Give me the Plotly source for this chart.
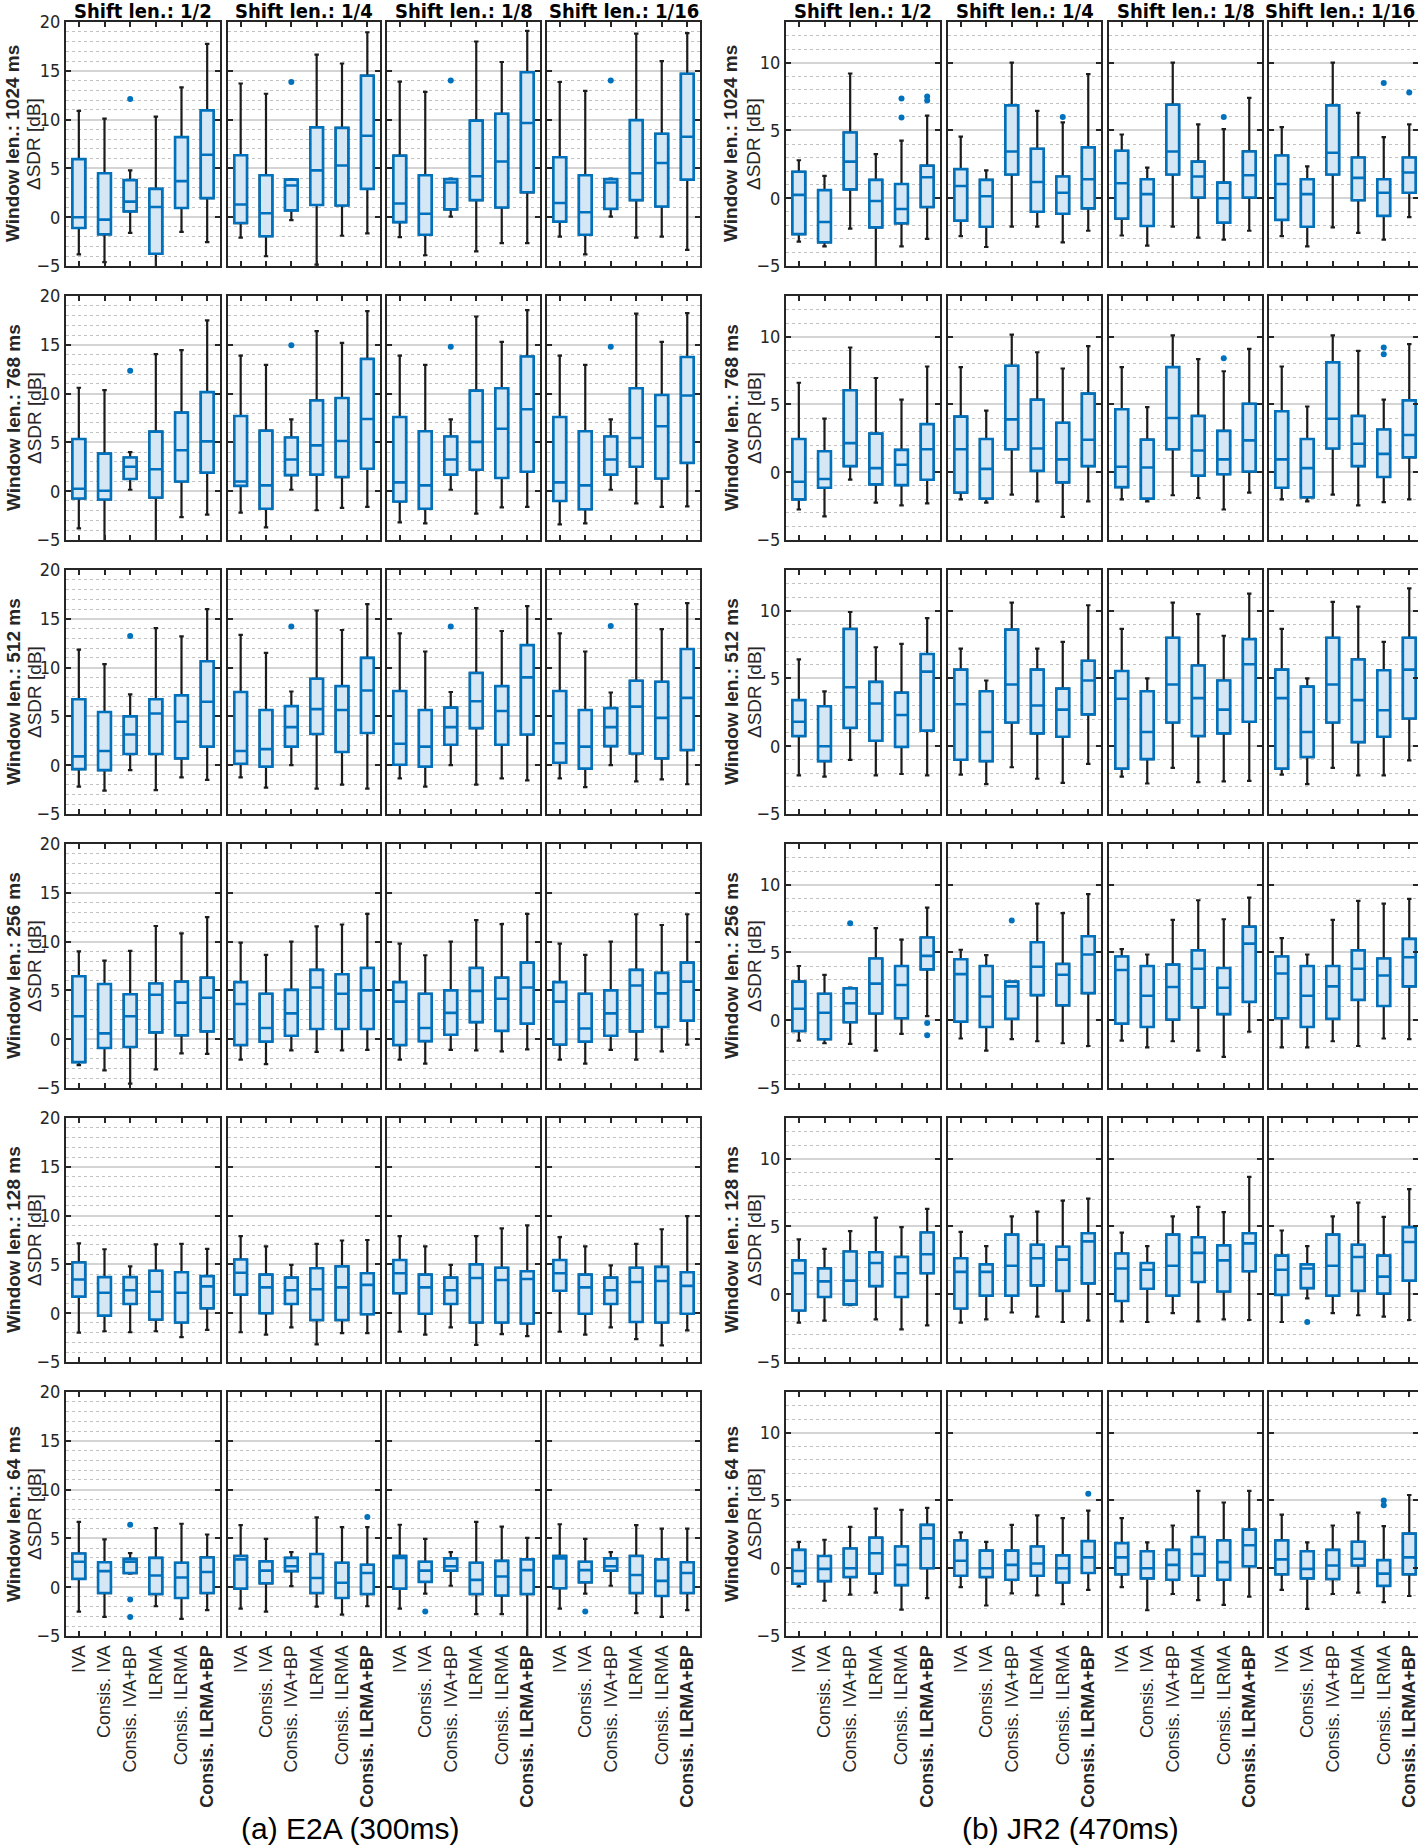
import plotly.graph_objects as go

# ---------------- categories ----------------
METHODS = ["IVA", "Consis. IVA", "Consis. IVA+BP", "ILRMA", "Consis. ILRMA", "Consis. ILRMA+BP"]
SHIFTS = ["1/2", "1/4", "1/8", "1/16"]
WINDOWS = [1024, 768, 512, 256, 128, 64]
DATASETS = ["E2A", "JR2"]
DATASET_TITLES = ["(a) E2A (300ms)", "(b) JR2 (470ms)"]

# ---------------- E2A data (rows = shift 1/2, 1/4, 1/8, 1/16; cols = methods) ----------------
E2A_1024_LOW = [[-3.8, -4.6, -1.6, -5.5, -1.5, -2.55], [-2.1, -4.0, -0.3, -4.85, -1.9, -1.65],
                [-2.05, -3.9, 0.05, -3.5, -2.65, -2.65], [-2.0, -3.8, 0.05, -2.1, -2.0, -3.35]]
E2A_1024_Q1 = [[-1.1, -1.75, 0.6, -3.75, 0.95, 1.95], [-0.6, -1.95, 0.7, 1.25, 1.2, 2.9],
               [-0.5, -1.8, 0.8, 1.75, 1.0, 2.55], [-0.45, -1.8, 0.85, 1.75, 1.1, 3.85]]
E2A_1024_MED = [[0.0, -0.25, 1.6, 1.05, 3.7, 6.4], [1.3, 0.4, 3.25, 4.8, 5.3, 8.35],
                [1.4, 0.35, 3.55, 4.2, 5.7, 9.65], [1.45, 0.5, 3.55, 4.5, 5.55, 8.25]]
E2A_1024_Q3 = [[5.95, 4.5, 3.8, 2.9, 8.2, 10.95], [6.35, 4.3, 3.85, 9.2, 9.15, 14.5],
               [6.3, 4.3, 3.9, 9.9, 10.6, 14.85], [6.15, 4.3, 3.9, 9.95, 8.55, 14.7]]
E2A_1024_HIGH = [[10.9, 10.1, 4.8, 10.3, 13.3, 17.75], [13.7, 12.65, 3.9, 16.65, 15.75, 18.95],
                 [13.9, 12.85, 3.95, 18.0, 15.9, 19.1], [13.85, 12.95, 3.95, 18.8, 16.0, 18.85]]

E2A_768_LOW = [[-3.8, -5.5, 0.15, -5.5, -2.65, -2.4], [-2.2, -3.7, 0.15, -1.95, -1.7, -1.6],
               [-3.2, -3.3, 0.15, -2.3, -1.65, -1.6], [-3.4, -3.3, 0.15, -1.25, -1.6, -1.55]]
E2A_768_Q1 = [[-0.75, -0.85, 1.25, -0.65, 1.0, 1.9], [0.55, -1.8, 1.65, 1.7, 1.45, 2.3],
              [-1.05, -1.8, 1.7, 2.2, 1.35, 2.0], [-1.0, -1.85, 1.7, 2.5, 1.3, 2.9]]
E2A_768_MED = [[0.25, 0.05, 2.5, 2.25, 4.2, 5.1], [1.0, 0.6, 3.25, 4.7, 5.15, 7.4],
               [0.9, 0.6, 3.25, 5.05, 6.4, 8.4], [0.9, 0.6, 3.25, 5.45, 6.65, 9.8]]
E2A_768_Q3 = [[5.35, 3.85, 3.45, 6.1, 8.05, 10.15], [7.7, 6.2, 5.5, 9.3, 9.55, 13.55],
              [7.6, 6.15, 5.6, 10.3, 10.55, 13.8], [7.6, 6.15, 5.6, 10.55, 9.85, 13.75]]
E2A_768_HIGH = [[10.6, 10.35, 4.0, 14.05, 14.45, 17.5], [13.9, 12.95, 7.35, 16.4, 15.2, 18.45],
                [13.9, 12.95, 7.35, 17.9, 15.3, 18.55], [13.9, 12.95, 7.35, 18.2, 15.3, 18.25]]

E2A_512_LOW = [[-2.2, -2.6, -0.5, -2.55, -1.25, -1.5], [-1.25, -2.3, 0.0, -2.4, -2.0, -2.4],
               [-1.35, -2.2, 0.0, -2.0, -1.35, -1.55], [-1.35, -2.25, 0.0, -1.65, -1.45, -1.95]]
E2A_512_Q1 = [[-0.4, -0.5, 1.15, 1.15, 0.7, 1.9], [0.15, -0.15, 1.9, 3.2, 1.35, 3.3],
              [0.05, -0.15, 2.1, 3.8, 2.1, 3.15], [0.25, -0.35, 1.95, 1.2, 0.7, 1.55]]
E2A_512_MED = [[0.9, 1.45, 3.15, 5.3, 4.45, 6.5], [1.45, 1.65, 3.9, 5.75, 5.65, 7.65],
               [2.2, 1.9, 3.9, 6.55, 5.55, 9.0], [2.25, 1.9, 3.9, 6.0, 4.85, 6.9]]
E2A_512_Q3 = [[6.75, 5.45, 5.0, 6.75, 7.15, 10.65], [7.5, 5.65, 6.05, 8.85, 8.1, 11.0],
              [7.6, 5.65, 5.9, 9.45, 8.1, 12.3], [7.6, 5.65, 5.85, 8.65, 8.55, 11.9]]
E2A_512_HIGH = [[11.85, 10.35, 7.25, 14.05, 13.2, 16.0], [13.35, 11.5, 7.55, 15.85, 13.85, 16.5],
                [13.5, 11.65, 7.5, 16.1, 13.75, 16.3], [13.5, 11.65, 7.45, 16.5, 13.95, 16.6]]

E2A_256_LOW = [[-2.65, -3.2, -4.55, -3.1, -1.45, -1.5], [-2.1, -2.55, -1.15, -1.3, -1.15, -1.1],
               [-2.1, -2.5, -1.1, -1.15, -1.25, -1.05], [-2.1, -2.5, -1.1, -2.1, -1.25, -0.55]]
E2A_256_Q1 = [[-2.35, -0.9, -0.8, 0.7, 0.4, 0.8], [-0.6, -0.25, 0.35, 1.05, 1.05, 1.05],
              [-0.6, -0.2, 0.45, 1.75, 0.85, 1.6], [-0.55, -0.25, 0.35, 0.8, 1.25, 1.9]]
E2A_256_MED = [[2.35, 0.6, 2.35, 4.55, 3.75, 4.25], [3.6, 1.15, 2.65, 5.3, 4.65, 5.0],
               [3.85, 1.15, 2.7, 4.95, 4.15, 5.3], [3.85, 1.1, 2.65, 5.5, 4.7, 5.9]]
E2A_256_Q3 = [[6.45, 5.65, 4.6, 5.7, 5.9, 6.3], [5.85, 4.65, 5.05, 7.1, 6.65, 7.3],
              [5.85, 4.65, 5.0, 7.3, 6.3, 7.85], [5.85, 4.65, 5.0, 7.1, 6.8, 7.85]]
E2A_256_HIGH = [[9.0, 8.05, 9.05, 11.6, 10.85, 12.5], [9.9, 8.65, 10.0, 11.55, 11.75, 12.85],
                [9.8, 8.6, 10.0, 12.2, 11.8, 12.85], [9.8, 8.65, 10.0, 12.8, 11.7, 12.8]]

E2A_128_LOW = [[-2.0, -1.85, -1.95, -1.85, -2.45, -1.7], [-1.95, -2.2, -1.45, -3.2, -2.05, -2.05],
               [-1.9, -2.2, -1.45, -3.25, -2.15, -2.35], [-1.9, -2.2, -1.45, -2.65, -3.3, -1.75]]
E2A_128_Q1 = [[1.7, -0.25, 0.95, -0.65, -0.95, 0.5], [1.9, 0.0, 0.95, -0.7, -0.7, -0.1],
              [2.05, -0.05, 0.95, -0.95, -0.95, -1.05], [2.3, -0.05, 0.95, -0.9, -0.95, -0.05]]
E2A_128_MED = [[3.45, 2.1, 2.35, 2.2, 2.1, 2.75], [4.15, 2.65, 2.35, 2.45, 2.65, 2.9],
               [4.1, 2.65, 2.35, 3.6, 3.4, 3.5], [4.1, 2.65, 2.35, 3.2, 3.3, 2.8]]
E2A_128_Q3 = [[5.2, 3.7, 3.7, 4.35, 4.2, 3.8], [5.5, 3.95, 3.65, 4.6, 4.8, 4.1],
              [5.45, 3.95, 3.65, 5.0, 4.65, 4.3], [5.45, 3.95, 3.65, 4.65, 4.75, 4.2]]
E2A_128_HIGH = [[7.15, 6.55, 4.8, 7.05, 7.1, 6.6], [7.9, 6.85, 4.95, 7.1, 7.45, 7.5],
                [7.9, 6.85, 4.95, 7.9, 8.7, 9.0], [7.8, 6.85, 4.9, 7.1, 8.6, 9.95]]

E2A_64_LOW = [[-2.5, -3.05, 1.4, -1.95, -3.25, -2.35], [-2.2, -2.5, 0.1, -2.0, -2.8, -1.95],
              [-2.2, -0.65, 0.15, -2.75, -2.75, -5.5], [-2.2, -0.65, 0.15, -2.65, -3.05, -2.35]]
E2A_64_Q1 = [[0.85, -0.6, 1.45, -0.7, -1.1, -0.6], [-0.15, 0.4, 1.65, -0.6, -1.1, -0.7],
             [-0.15, 0.55, 1.7, -0.7, -0.85, -0.7], [-0.1, 0.5, 1.7, -0.6, -0.9, -0.6]]
E2A_64_MED = [[2.6, 1.65, 2.6, 1.2, 1.0, 1.55], [2.85, 1.7, 2.15, 0.95, 0.45, 1.45],
              [3.0, 1.7, 2.15, 0.75, 1.1, 1.75], [2.95, 1.75, 2.15, 1.25, 0.65, 1.45]]
E2A_64_Q3 = [[3.45, 2.55, 2.9, 3.0, 2.5, 3.05], [3.2, 2.65, 3.0, 3.4, 2.5, 2.3],
             [3.2, 2.6, 2.95, 2.5, 2.7, 2.85], [3.2, 2.6, 2.95, 3.2, 2.85, 2.55]]
E2A_64_HIGH = [[6.7, 4.9, 3.5, 6.05, 6.5, 5.4], [6.35, 4.95, 3.6, 7.15, 6.15, 6.15],
               [6.4, 4.95, 3.6, 6.7, 6.2, 5.05], [6.45, 4.95, 3.6, 6.35, 6.0, 6.0]]

# outliers: (window, shift index, method index, value)
E2A_OUTLIERS = [
    (1024, 0, 2, 12.1), (1024, 1, 2, 13.85), (1024, 2, 2, 14.0), (1024, 3, 2, 14.0),
    (768, 0, 2, 12.35), (768, 1, 2, 14.95), (768, 2, 2, 14.8), (768, 3, 2, 14.8),
    (512, 0, 2, 13.25), (512, 1, 2, 14.2), (512, 2, 2, 14.2), (512, 3, 2, 14.25),
    (64, 0, 2, 6.4), (64, 0, 2, -1.25), (64, 0, 2, -3.05), (64, 1, 5, 7.2),
    (64, 2, 1, -2.5), (64, 3, 1, -2.5),
]

# ---------------- JR2 data ----------------
JR2_1024_LOW = [[-3.2, -3.55, -2.25, -5.5, -3.55, -3.0], [-2.8, -3.6, -2.1, -2.1, -3.25, -2.4],
                [-2.75, -3.5, -2.1, -2.9, -3.05, -2.4], [-2.8, -3.55, -2.15, -2.55, -3.05, -1.4]]
JR2_1024_Q1 = [[-2.65, -3.25, 0.65, -2.15, -1.85, -0.65], [-1.65, -2.1, 1.75, -1.0, -1.15, -0.75],
               [-1.5, -2.05, 1.75, 0.05, -1.8, 0.05], [-1.6, -2.1, 1.75, -0.15, -1.3, 0.4]]
JR2_1024_MED = [[0.25, -1.75, 2.7, -0.2, -0.8, 1.55], [0.9, 0.15, 3.45, 1.2, 0.4, 1.4],
                [1.1, 0.3, 3.45, 1.6, 0.0, 1.7], [1.05, 0.3, 3.35, 1.5, 0.4, 1.9]]
JR2_1024_Q3 = [[1.95, 0.6, 4.85, 1.35, 1.05, 2.4], [2.15, 1.35, 6.85, 3.65, 1.6, 3.75],
               [3.5, 1.4, 6.9, 2.7, 1.15, 3.45], [3.15, 1.4, 6.85, 3.0, 1.4, 3.0]]
JR2_1024_HIGH = [[2.8, 1.65, 9.2, 3.25, 4.25, 6.1], [4.55, 2.05, 10.0, 6.45, 5.6, 9.15],
                 [4.7, 2.25, 10.0, 5.45, 5.1, 7.4], [5.25, 2.35, 10.0, 6.3, 4.5, 5.45]]

JR2_768_LOW = [[-2.75, -3.25, -0.55, -2.25, -2.45, -2.3], [-2.0, -2.25, -1.65, -2.15, -3.3, -2.15],
               [-2.0, -2.15, -1.7, -1.9, -2.75, -1.5], [-2.0, -2.15, -1.65, -2.45, -2.2, -2.0]]
JR2_768_Q1 = [[-2.0, -1.15, 0.45, -0.9, -0.95, -0.55], [-1.5, -1.95, 1.7, 0.1, -0.75, 0.45],
              [-1.1, -1.95, 1.7, -0.25, -0.15, 0.05], [-1.15, -1.85, 1.75, 0.45, -0.35, 1.1]]
JR2_768_MED = [[-0.7, -0.5, 2.15, 0.3, 0.55, 1.7], [1.7, 0.25, 3.9, 1.75, 0.95, 2.4],
               [0.4, 0.35, 4.0, 1.6, 0.95, 2.35], [0.95, 0.3, 3.95, 2.1, 1.35, 2.75]]
JR2_768_Q3 = [[2.45, 1.55, 6.05, 2.85, 1.65, 3.55], [4.1, 2.45, 7.85, 5.35, 3.65, 5.8],
              [4.65, 2.4, 7.75, 4.15, 3.05, 5.05], [4.5, 2.45, 8.1, 4.15, 3.15, 5.3]]
JR2_768_HIGH = [[6.6, 3.95, 9.2, 6.95, 5.35, 7.8], [7.75, 4.55, 10.15, 8.85, 7.65, 9.3],
                [7.75, 4.8, 10.1, 8.35, 7.45, 9.1], [7.8, 4.85, 10.1, 8.95, 5.35, 9.45]]

JR2_512_LOW = [[-2.15, -2.25, -1.0, -2.15, -2.05, -2.15], [-2.1, -2.8, -1.55, -2.4, -2.7, -1.3],
               [-2.25, -2.75, -1.6, -2.65, -2.6, -2.55], [-2.1, -2.8, -1.6, -2.15, -2.15, -1.05]]
JR2_512_Q1 = [[0.75, -1.1, 1.35, 0.4, -0.05, 1.15], [-1.0, -1.1, 1.75, 0.95, 0.7, 2.35],
              [-1.65, -0.95, 1.75, 0.75, 0.95, 1.8], [-1.65, -0.8, 1.75, 0.3, 0.7, 2.05]]
JR2_512_MED = [[1.8, 0.0, 4.35, 3.15, 2.3, 5.5], [3.1, 1.05, 4.55, 3.0, 2.7, 4.85],
               [3.5, 1.05, 4.55, 3.55, 2.7, 6.05], [3.55, 1.05, 4.55, 3.4, 2.65, 5.65]]
JR2_512_Q3 = [[3.4, 2.95, 8.65, 4.75, 3.95, 6.8], [5.65, 4.05, 8.6, 5.65, 4.25, 6.3],
              [5.55, 4.05, 8.0, 5.95, 4.85, 7.9], [5.65, 4.4, 8.0, 6.4, 5.6, 8.0]]
JR2_512_HIGH = [[6.4, 4.05, 9.9, 7.3, 7.55, 9.45], [7.2, 4.85, 10.6, 7.2, 7.7, 10.4],
                [8.65, 5.0, 10.6, 9.75, 8.15, 11.25], [8.65, 5.0, 10.65, 10.3, 7.7, 11.65]]

JR2_256_LOW = [[-1.5, -1.7, -1.75, -2.25, -1.0, 0.3], [-1.35, -2.25, -1.4, -1.55, -1.7, -1.9],
               [-1.5, -2.0, -1.55, -2.25, -2.7, -0.85], [-2.0, -2.0, -1.55, -1.9, -1.35, -1.4]]
JR2_256_Q1 = [[-0.8, -1.4, -0.15, 0.5, 0.15, 3.75], [-0.1, -0.5, 0.1, 1.85, 1.1, 2.0],
              [-0.25, -0.5, 0.05, 0.95, 0.45, 1.35], [0.15, -0.5, 0.1, 1.5, 1.05, 2.5]]
JR2_256_MED = [[0.85, 0.55, 1.25, 2.7, 2.6, 4.75], [3.4, 1.75, 2.5, 3.95, 3.35, 4.85],
               [3.7, 1.8, 2.45, 3.8, 2.4, 5.65], [3.45, 1.8, 2.5, 3.8, 3.3, 4.65]]
JR2_256_Q3 = [[2.85, 1.95, 2.35, 4.55, 4.0, 6.1], [4.5, 4.0, 2.85, 5.75, 4.15, 6.2],
              [4.7, 4.0, 4.1, 5.15, 3.85, 6.9], [4.7, 4.0, 4.0, 5.15, 4.55, 6.0]]
JR2_256_HIGH = [[4.0, 3.35, 2.4, 6.8, 5.95, 8.3], [5.2, 4.8, 2.85, 8.6, 7.9, 9.3],
                [5.25, 4.85, 7.4, 8.85, 7.45, 9.05], [6.05, 4.85, 7.4, 8.8, 8.6, 8.95]]

JR2_128_LOW = [[-2.1, -1.95, -0.8, -1.85, -2.6, -2.3], [-2.1, -1.85, -1.35, -1.65, -2.05, -1.95],
               [-2.0, -2.05, -1.4, -2.0, -1.85, -1.9], [-2.05, -0.3, -1.4, -1.55, -1.65, -1.9]]
JR2_128_Q1 = [[-1.2, -0.2, -0.75, 0.6, -0.2, 1.55], [-1.05, -0.1, -0.1, 0.65, 0.25, 0.8],
              [-0.5, 0.4, -0.1, 0.9, 0.2, 1.7], [-0.05, 0.45, -0.1, 0.25, 0.05, 1.0]]
JR2_128_MED = [[1.55, 0.95, 1.0, 2.3, 1.55, 2.95], [1.65, 1.65, 2.1, 2.65, 2.55, 3.9],
               [1.9, 1.8, 2.1, 3.05, 2.5, 3.75], [1.8, 1.9, 2.1, 2.75, 1.3, 3.85]]
JR2_128_Q3 = [[2.5, 1.9, 3.15, 3.1, 2.75, 4.55], [2.65, 2.2, 4.4, 3.65, 3.5, 4.5],
              [3.0, 2.3, 4.4, 4.2, 3.6, 4.5], [2.85, 2.2, 4.4, 3.65, 2.85, 4.95]]
JR2_128_HIGH = [[4.05, 3.35, 4.65, 5.65, 4.95, 6.3], [4.6, 3.55, 5.75, 6.1, 6.9, 7.05],
                [4.55, 3.55, 5.75, 6.45, 6.05, 8.65], [4.7, 3.55, 5.75, 6.75, 5.7, 7.75]]

JR2_64_LOW = [[-1.35, -2.4, -1.95, -1.8, -3.05, -2.2], [-1.4, -2.75, -1.85, -2.0, -2.65, -1.6],
              [-1.4, -3.1, -1.9, -2.35, -2.7, -2.1], [-1.6, -3.0, -1.9, -1.8, -2.5, -2.05]]
JR2_64_Q1 = [[-1.15, -0.95, -0.65, -0.4, -1.25, 0.0], [-0.55, -0.65, -0.85, -0.55, -1.05, -0.35],
             [-0.45, -0.75, -0.85, -0.55, -0.85, 0.15], [-0.45, -0.75, -0.8, 0.2, -1.3, -0.45]]
JR2_64_MED = [[-0.2, -0.05, 0.0, 1.1, 0.25, 2.2], [0.55, 0.0, 0.25, 0.35, 0.0, 0.8],
              [0.8, 0.0, 0.25, 1.05, 0.45, 1.7], [0.65, -0.05, 0.2, 0.7, -0.4, 0.8]]
JR2_64_Q3 = [[1.35, 0.9, 1.45, 2.25, 1.6, 3.2], [2.05, 1.3, 1.3, 1.6, 0.95, 2.0],
             [1.85, 1.25, 1.35, 2.3, 2.05, 2.85], [2.05, 1.25, 1.35, 1.95, 0.6, 2.55]]
JR2_64_HIGH = [[1.95, 2.1, 3.05, 4.4, 4.3, 4.45], [2.65, 1.95, 3.2, 3.9, 3.7, 4.25],
               [3.7, 1.9, 3.15, 5.7, 4.85, 5.7], [3.95, 1.9, 3.15, 4.1, 3.1, 5.4]]

JR2_OUTLIERS = [
    (1024, 0, 4, 7.35), (1024, 0, 4, 5.95), (1024, 0, 5, 7.5), (1024, 0, 5, 7.2),
    (1024, 1, 4, 6.0), (1024, 2, 4, 6.0), (1024, 3, 4, 8.5), (1024, 3, 5, 7.8),
    (768, 2, 4, 8.4), (768, 3, 4, 9.2), (768, 3, 4, 8.7),
    (256, 0, 2, 7.15), (256, 0, 5, -0.2), (256, 0, 5, -1.1), (256, 1, 2, 7.35),
    (128, 3, 1, -2.05),
    (64, 1, 5, 5.5), (64, 3, 4, 5.0), (64, 3, 4, 4.65),
]

Y_RANGES = {"E2A": [-5, 20], "JR2": [-5, 13]}
Y_TICKS = {"E2A": [-5, 0, 5, 10, 15, 20], "JR2": [-5, 0, 5, 10]}

# ---------------- lookup built from the named arrays ----------------
G = globals()
STATS = {}
for ds in DATASETS:
    for w in WINDOWS:
        STATS[(ds, w)] = tuple(G[f"{ds}_{w}_{k}"] for k in ("LOW", "Q1", "MED", "Q3", "HIGH"))
OUTLIERS = {"E2A": E2A_OUTLIERS, "JR2": JR2_OUTLIERS}

# ---------------- styling / geometry ----------------
W, H = 1418, 1846
BLUE = "#0072BD"
FILL = "#D5E6F4"
DARK = "#1c1c1c"
FRAME = "#262626"
NARROW = "Liberation Sans Narrow, Arial Narrow, DejaVu Sans Condensed, sans-serif"
SANS = "Liberation Sans, Arial, Helvetica, sans-serif"

PANEL_X = {
    "E2A": [(66, 220), (228, 380), (387, 540), (547, 700)],
    "JR2": [(786, 940), (948, 1101), (1109, 1262), (1269, 1422)],
}
ROW_TOP0, ROW_H, ROW_STEP = 22, 244, 274
BLOCK_CENTER = {"E2A": 350, "JR2": 1070}
YTITLE_X = {"E2A": (13, 34), "JR2": (731, 754)}

xs = list(range(1, len(METHODS) + 1))
ticktext = [m if i < len(METHODS) - 1 else f"<b>{m}</b>" for i, m in enumerate(METHODS)]

fig = go.Figure()
layout = dict(
    width=W, height=H, margin=dict(l=0, r=0, t=0, b=0),
    paper_bgcolor="white", plot_bgcolor="white", showlegend=False,
    boxmode="overlay", font=dict(family=SANS, color=FRAME),
)
annotations = []

n = 0
for ds in DATASETS:
    for r, w in enumerate(WINDOWS):
        top = ROW_TOP0 + r * ROW_STEP
        bot = top + ROW_H
        for c, sh in enumerate(SHIFTS):
            n += 1
            xa = "x" if n == 1 else f"x{n}"
            ya = "y" if n == 1 else f"y{n}"
            x0, x1 = PANEL_X[ds][c]
            xr_end = 6.5
            if x1 > W:
                xr_end = 0.5 + 6.0 * (W - x0) / (x1 - x0)
                x1 = W
            low, q1, med, q3, high = (a[c] for a in STATS[(ds, w)])
            lf = [min(a, b) for a, b in zip(low, q1)]
            uf = [max(a, b) for a, b in zip(high, q3)]
            # whiskers (black)
            fig.add_trace(go.Box(
                x=xs, q1=q1, median=med, q3=q3, lowerfence=lf, upperfence=uf,
                width=0.5, whiskerwidth=0.35, line=dict(color=DARK, width=2.2),
                fillcolor="rgba(0,0,0,0)", xaxis=xa, yaxis=ya, hoverinfo="skip",
                showlegend=False,
            ))
            # boxes (blue)
            fig.add_trace(go.Box(
                x=xs, q1=q1, median=med, q3=q3, lowerfence=q1, upperfence=q3,
                width=0.5, whiskerwidth=0, line=dict(color=BLUE, width=2.6),
                fillcolor=FILL, xaxis=xa, yaxis=ya, hoverinfo="skip",
                showlegend=False,
            ))
            outs = [(m + 1, v) for (ww, s, m, v) in OUTLIERS[ds] if ww == w and s == c]
            if outs:
                fig.add_trace(go.Scatter(
                    x=[o[0] for o in outs], y=[o[1] for o in outs], mode="markers",
                    marker=dict(color=BLUE, size=6), xaxis=xa, yaxis=ya,
                    hoverinfo="skip", showlegend=False,
                ))
            xkey = "xaxis" if n == 1 else f"xaxis{n}"
            ykey = "yaxis" if n == 1 else f"yaxis{n}"
            layout[xkey] = dict(
                domain=[x0 / W, x1 / W], anchor=ya, range=[0.5, xr_end],
                tickmode="array", tickvals=xs, ticktext=ticktext,
                showticklabels=(r == len(WINDOWS) - 1), tickangle=-90,
                ticklabeloverflow="allow",
                tickfont=dict(family=SANS, size=18, color=FRAME),
                ticks="inside", ticklen=5, tickwidth=1.5, tickcolor=FRAME,
                showline=True, linecolor=FRAME, linewidth=2, mirror="ticks",
                showgrid=False, zeroline=False, automargin=False, fixedrange=True,
            )
            layout[ykey] = dict(
                domain=[1 - bot / H, 1 - top / H], anchor=xa, range=Y_RANGES[ds],
                tickmode="array", tickvals=Y_TICKS[ds], showticklabels=(c == 0),
                tickfont=dict(family=NARROW, size=18, color=FRAME),
                ticks="inside", ticklen=5, tickwidth=1.5, tickcolor=FRAME,
                showline=True, linecolor=FRAME, linewidth=2, mirror="ticks",
                showgrid=True, gridcolor="#d4d4d4", gridwidth=1.6,
                minor=dict(dtick=1, tick0=0, showgrid=True, gridcolor="#c2c2c2",
                           griddash="dot", gridwidth=1),
                zeroline=False, automargin=False, fixedrange=True,
            )
            if r == 0:
                cx = (x0 + PANEL_X[ds][c][1]) / 2
                anchor = "center"
                if PANEL_X[ds][c][1] > W:
                    cx, anchor = W - 1, "right"
                annotations.append(dict(
                    x=cx / W, y=1 - 11 / H, xref="paper", yref="paper",
                    text=f"<b>Shift len.: {sh}</b>", showarrow=False,
                    xanchor=anchor, yanchor="middle",
                    font=dict(family=NARROW, size=20, color="black"),
                ))
        # y-axis titles
        yc = 1 - (top + ROW_H / 2) / H
        bx, nx = YTITLE_X[ds]
        annotations.append(dict(
            x=bx / W, y=yc, xref="paper", yref="paper", text=f"<b>Window len.: {w} ms</b>",
            textangle=-90, showarrow=False, xanchor="center", yanchor="middle",
            font=dict(family=SANS, size=19, color=FRAME),
        ))
        annotations.append(dict(
            x=nx / W, y=yc, xref="paper", yref="paper", text="ΔSDR [dB]",
            textangle=-90, showarrow=False, xanchor="center", yanchor="middle",
            font=dict(family=SANS, size=19, color=FRAME),
        ))

for ds, title in zip(DATASETS, DATASET_TITLES):
    annotations.append(dict(
        x=BLOCK_CENTER[ds] / W, y=1 - 1828 / H, xref="paper", yref="paper", text=title,
        showarrow=False, xanchor="center", yanchor="middle",
        font=dict(family=SANS, size=30, color="black"),
    ))

layout["annotations"] = annotations
fig.update_layout(**layout)

fig.write_html(
    "out.html",
    config={"displayModeBar": False, "responsive": False},
    post_script="document.body.style.margin='0';document.body.style.padding='0';",
)
